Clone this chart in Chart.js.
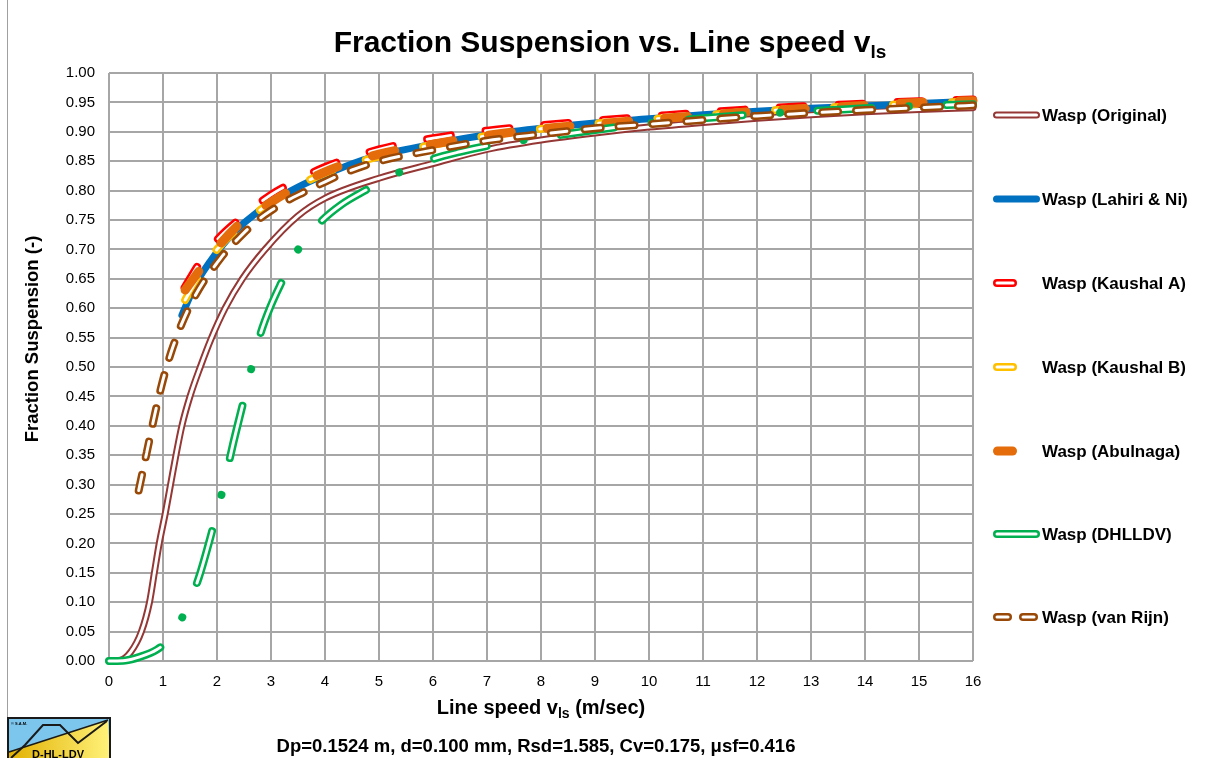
<!DOCTYPE html>
<html>
<head>
<meta charset="utf-8">
<title>Fraction Suspension vs. Line speed</title>
<script src="https://cdn.jsdelivr.net/npm/chart.js@4.4.0/dist/chart.umd.min.js"></script>
<style>
  body { margin: 0; background: #fff; }
  #wrap { position: relative; width: 1213px; height: 758px; }
</style>
</head>
<body>
<div id="wrap"><canvas id="myChart"></canvas></div>
<script>
// Values: x is line speed (m/sec), y is fraction suspension (-)

const seriesNames = [
  "Wasp (Original)",
  "Wasp (Lahiri & Ni)",
  "Wasp (Kaushal A)",
  "Wasp (Kaushal B)",
  "Wasp (Abulnaga)",
  "Wasp (DHLLDV)",
  "Wasp (van Rijn)",
];

const xOriginal = [0, 0.2, 0.4, 0.6, 0.75, 0.84, 0.93, 1.04, 1.14, 1.24, 1.35, 1.5, 1.69, 1.9, 2.15, 2.47, 2.89, 3.5, 4, 5, 6, 7, 8, 9, 10, 11, 12, 13, 14, 15, 16];
const yOriginal = [0, 0.001, 0.015, 0.05, 0.10, 0.15, 0.20, 0.25, 0.30, 0.35, 0.40, 0.45, 0.50, 0.55, 0.60, 0.65, 0.70, 0.757, 0.787, 0.821, 0.846, 0.870, 0.886, 0.898, 0.908, 0.916, 0.923, 0.929, 0.934, 0.938, 0.941];

const xLahiri = [1.35, 1.6, 1.87, 2.2, 2.5, 3, 3.5, 4, 4.7, 5, 6, 7, 8, 9, 10, 11, 12, 13, 14, 15, 16];
const yLahiri = [0.588, 0.64, 0.679, 0.718, 0.745, 0.78, 0.806, 0.827, 0.852, 0.86, 0.879, 0.895, 0.906, 0.915, 0.922, 0.929, 0.935, 0.94, 0.944, 0.948, 0.952];

const xKaushalA = [1.4, 1.7, 2.0, 2.4, 3, 3.5, 4, 5, 6, 7, 8, 9, 10, 11, 12, 13, 14, 15, 16];
const yKaushalA = [0.635, 0.68, 0.716, 0.75, 0.793, 0.818, 0.84, 0.87, 0.889, 0.902, 0.911, 0.919, 0.926, 0.933, 0.939, 0.944, 0.948, 0.952, 0.955];

const xKaushalB = [1.41, 1.7, 2.0, 2.5, 3, 3.5, 4, 5, 6, 7, 8, 9, 10, 11, 12, 13, 14, 15, 16];
const yKaushalB = [0.614, 0.66, 0.70, 0.745, 0.78, 0.808, 0.83, 0.858, 0.878, 0.893, 0.905, 0.914, 0.921, 0.928, 0.935, 0.94, 0.944, 0.948, 0.952];

const xAbulnaga = [1.41, 1.7, 2.0, 2.5, 3, 3.5, 4, 5, 6, 7, 8, 9, 10, 11, 12, 13, 14, 15, 16];
const yAbulnaga = [0.631, 0.667, 0.703, 0.75, 0.78, 0.808, 0.832, 0.862, 0.879, 0.894, 0.905, 0.913, 0.921, 0.928, 0.935, 0.94, 0.945, 0.95, 0.953];

const xDHLLDV = [0, 0.3, 0.57, 0.88, 1.1, 1.41, 1.66, 1.93, 2.1, 2.3, 2.5, 2.64, 2.81, 3.0, 3.19, 3.49, 3.9, 4.3, 4.76, 5.33, 5.94, 6.5, 7, 7.61, 8, 9, 9.93, 11, 12, 13, 14, 15, 16];
const yDHLLDV = [0, 0.001, 0.007, 0.019, 0.036, 0.084, 0.141, 0.228, 0.289, 0.37, 0.445, 0.499, 0.558, 0.605, 0.643, 0.698, 0.745, 0.776, 0.801, 0.829, 0.852, 0.866, 0.876, 0.885, 0.89, 0.903, 0.914, 0.923, 0.93, 0.935, 0.94, 0.944, 0.947];

const xVanRijn = [0.55, 0.7, 0.85, 1.0, 1.15, 1.3, 1.45, 1.6, 1.8, 2.0, 2.2, 2.4, 2.6, 2.8, 3.0, 3.3, 3.6, 4, 4.5, 5, 6, 7, 8, 9, 10, 11, 12, 13, 14, 15, 16];
const yVanRijn = [0.29, 0.355, 0.42, 0.478, 0.525, 0.563, 0.595, 0.622, 0.652, 0.677, 0.70, 0.719, 0.737, 0.753, 0.766, 0.783, 0.797, 0.815, 0.835, 0.85, 0.869, 0.885, 0.896, 0.906, 0.913, 0.92, 0.927, 0.932, 0.937, 0.941, 0.945];

const xTicks = [0, 1, 2, 3, 4, 5, 6, 7, 8, 9, 10, 11, 12, 13, 14, 15, 16];

const seriesX = [xOriginal, xLahiri, xKaushalA, xKaushalB, xAbulnaga, xDHLLDV, xVanRijn];
const seriesY = [yOriginal, yLahiri, yKaushalA, yKaushalB, yAbulnaga, yDHLLDV, yVanRijn];

// Line looks (Excel compound lines: a coloured line with a thin white line on top)
const lineStyles = [
  { color: "#953735", width: 7, inner: 3, dash: [] },
  { color: "#0070C0", width: 7, dash: [] },
  { color: "#FF0000", width: 8, inner: 3, dash: [24, 35] },
  { color: "#FFC000", width: 8, inner: 3, dash: [24, 35] },
  { color: "#E46C0A", width: 9, dash: [23, 36] },
  { color: "#00B050", width: 8, inner: 3, dash: [54, 37.5, 0.01, 37.5], innerDash: [54, 75.01] },
  { color: "#984807", width: 8, inner: 3, dash: [16, 18] },
];

// Legend icon segments (start, end of the centre line), relative to x=993
const legendSegs = [
  [[3.5, 43.5]],
  [[3.5, 43.5]],
  [[4, 20]],
  [[4, 20]],
  [[4.5, 19.5]],
  [[4, 43]],
  [[4, 15], [30, 41]],
];
const legendY = [115, 199, 283, 367, 451, 534, 617];

const FONT = "'Liberation Sans', Arial, sans-serif";

// Build the datasets from the arrays

function makePoints(xs, ys) {
  return xs.map((x, i) => ({ x: x, y: ys[i] }));
}

let datasets = [];
for (let k = 0; k < seriesNames.length; k++) {
  let st = lineStyles[k];
  let pts = makePoints(seriesX[k], seriesY[k]);
  let common = {
    data: pts,
    showLine: true,
    pointRadius: 0,
    pointHoverRadius: 0,
    fill: false,
    cubicInterpolationMode: "monotone",
    borderCapStyle: "round",
    borderJoinStyle: "round",
    clip: false,
  };
  datasets.push(Object.assign({}, common, {
    label: seriesNames[k],
    borderColor: st.color,
    borderWidth: st.width,
    borderDash: st.dash,
    order: 100 - 2 * k,
  }));
  if (st.inner) {
    datasets.push(Object.assign({}, common, {
      label: seriesNames[k] + " inner",
      borderColor: "#FFFFFF",
      borderWidth: st.inner,
      borderDash: st.innerDash || st.dash,
      order: 99 - 2 * k,
    }));
  }
}

// Draw a text with a subscript part, centred on cx

function drawSubText(ctx, parts, cx, y, size, subSize, subDrop) {
  let w = 0;
  parts.forEach((p) => {
    ctx.font = "bold " + (p.sub ? subSize : size) + "px " + FONT;
    p.w = ctx.measureText(p.t).width;
    w += p.w;
  });
  let x = cx - w / 2;
  ctx.textAlign = "left";
  ctx.textBaseline = "alphabetic";
  parts.forEach((p) => {
    ctx.font = "bold " + (p.sub ? subSize : size) + "px " + FONT;
    ctx.fillText(p.t, x, p.sub ? y + subDrop : y);
    x += p.w;
  });
}

function strokeSeg(ctx, x1, x2, y, color, width, dash) {
  ctx.save();
  ctx.strokeStyle = color;
  ctx.lineWidth = width;
  ctx.lineCap = "round";
  ctx.setLineDash(dash || []);
  ctx.beginPath();
  ctx.moveTo(x1, y);
  ctx.lineTo(x2, y);
  ctx.stroke();
  ctx.restore();
}

function drawLogo(ctx) {
  let x0 = 8, y0 = 718, w = 102, h = 42;
  ctx.save();
  ctx.fillStyle = "#7CC6EE";
  ctx.fillRect(x0, y0, w, h);
  let grad = ctx.createLinearGradient(x0, 0, x0 + w, 0);
  grad.addColorStop(0, "#E2B000");
  grad.addColorStop(1, "#FFF27A");
  ctx.fillStyle = grad;
  ctx.beginPath();
  ctx.moveTo(x0, y0 + 34);
  ctx.lineTo(x0 + w - 2, y0 + 2);
  ctx.lineTo(x0 + w, y0 + h);
  ctx.lineTo(x0, y0 + h);
  ctx.closePath();
  ctx.fill();
  ctx.strokeStyle = "#1A1A1A";
  ctx.lineWidth = 1.5;
  ctx.beginPath();
  ctx.moveTo(x0 + 1, y0 + 34);
  ctx.lineTo(x0 + w - 2, y0 + 2);
  ctx.stroke();
  ctx.lineWidth = 2;
  ctx.beginPath();
  ctx.moveTo(x0 + 3, y0 + 40);
  ctx.lineTo(x0 + 17, y0 + 27);
  ctx.lineTo(x0 + 35, y0 + 7);
  ctx.lineTo(x0 + 52, y0 + 7);
  ctx.lineTo(x0 + 70, y0 + 25);
  ctx.lineTo(x0 + 99, y0 + 3);
  ctx.stroke();
  ctx.lineWidth = 2;
  ctx.strokeRect(x0, y0, w, h);
  ctx.fillStyle = "#000";
  ctx.font = "bold 4px " + FONT;
  ctx.textAlign = "left";
  ctx.textBaseline = "alphabetic";
  ctx.fillText("© S.A.M.", x0 + 3, y0 + 7);
  ctx.font = "bold 11px " + FONT;
  ctx.textAlign = "center";
  ctx.fillText("D-HL-LDV", x0 + 50, y0 + 40);
  ctx.restore();
}

// Plugin for the texts, legend and logo of the picture

const decorations = {
  id: "decorations",
  afterDraw(chart) {
    const ctx = chart.ctx;
    ctx.save();

    // frame line on the left
    ctx.strokeStyle = "#A0A0A0";
    ctx.lineWidth = 1;
    ctx.beginPath();
    ctx.moveTo(7.5, 0);
    ctx.lineTo(7.5, 718);
    ctx.stroke();

    ctx.fillStyle = "#000";
    drawSubText(ctx, [{ t: "Fraction Suspension vs. Line speed v" }, { t: "ls", sub: true }], 610, 52, 30, 19, 6);
    drawSubText(ctx, [{ t: "Line speed v" }, { t: "ls", sub: true }, { t: " (m/sec)" }], 541, 714, 20, 14, 4);
    drawSubText(ctx, [{ t: "Dp=0.1524 m, d=0.100 mm, Rsd=1.585, Cv=0.175, μsf=0.416" }], 536, 752, 18.5, 13, 0);

    ctx.save();
    ctx.translate(38, 339);
    ctx.rotate(-Math.PI / 2);
    drawSubText(ctx, [{ t: "Fraction Suspension (-)" }], 0, 0, 18.5, 13, 0);
    ctx.restore();

    // legend
    for (let k = 0; k < seriesNames.length; k++) {
      let st = lineStyles[k];
      let y = legendY[k];
      legendSegs[k].forEach((s) => {
        strokeSeg(ctx, 993 + s[0], 993 + s[1], y, st.color, st.width);
        if (st.inner) strokeSeg(ctx, 993 + s[0], 993 + s[1], y, "#FFFFFF", st.inner);
      });
      ctx.fillStyle = "#000";
      ctx.font = "bold 17px " + FONT;
      ctx.textAlign = "left";
      ctx.textBaseline = "middle";
      ctx.fillText(seriesNames[k], 1042, y + 1);
    }

    drawLogo(ctx);
    ctx.restore();
  },
};

new Chart("myChart", {
  type: "scatter",
  data: { datasets: datasets },
  options: {
    responsive: true,
    maintainAspectRatio: false,
    animation: false,
    layout: { padding: { left: 0, right: 240, top: 73, bottom: 0 } },
    plugins: {
      legend: { display: false },
      title: { display: false },
      tooltip: { enabled: false },
    },
    scales: {
      x: {
        type: "linear",
        min: 0,
        max: 16,
        afterBuildTicks: (scale) => {
          scale.ticks = xTicks.map((v) => ({ value: v }));
        },
        afterFit: (scale) => {
          scale.height = 97;
        },
        grid: { color: "#A6A6A6", lineWidth: 2, drawTicks: false },
        border: { display: false },
        ticks: {
          padding: 12,
          color: "#000",
          font: { family: FONT, size: 15 },
          callback: (v) => String(v),
        },
      },
      y: {
        type: "linear",
        min: 0,
        max: 1,
        afterFit: (scale) => {
          scale.width = 109;
        },
        grid: { color: "#A6A6A6", lineWidth: 2, drawTicks: false },
        border: { display: false },
        ticks: {
          stepSize: 0.05,
          padding: 14,
          color: "#000",
          font: { family: FONT, size: 15 },
          callback: (v) => Number(v).toFixed(2),
        },
      },
    },
  },
  plugins: [decorations],
});
</script>
</body>
</html>
